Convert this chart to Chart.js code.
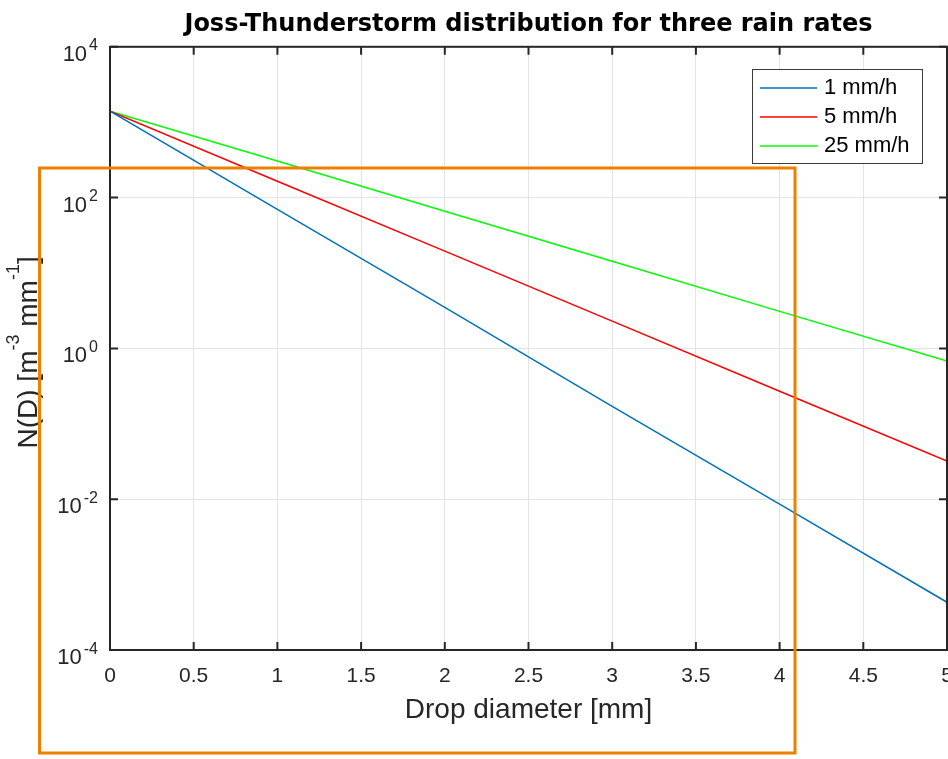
<!DOCTYPE html>
<html>
<head>
<meta charset="utf-8">
<script src="https://cdn.jsdelivr.net/npm/chart.js@4.4.0/dist/chart.umd.min.js"></script>
<style>
  html, body { margin: 0; padding: 0; background: #fff; }
  #wrap { width: 948px; height: 759px; }
</style>
</head>
<body>
<div id="wrap"><canvas id="myChart"></canvas></div>
<script>
// drop diameter [mm]
const diameters = [0, 1, 2, 3, 4, 5];
const rainRates = ['1 mm/h', '5 mm/h', '25 mm/h'];
// N(D) [m^-3 mm^-1]
const nd1 = [1400, 70, 3.5, 0.17, 0.0086, 0.00043];
const nd5 = [1400, 165, 19.5, 2.3, 0.27, 0.032];
const nd25 = [1400, 305, 66, 14.3, 3.1, 0.68];
const xTickValues = [0, 0.5, 1, 1.5, 2, 2.5, 3, 3.5, 4, 4.5, 5];
const yTickExponents = [-4, -2, 0, 2, 4];
const lineColors = ['#0072bd', '#ff0000', '#00ff00'];

const axisColor = '#262626';
const sans = "'Liberation Sans', Arial, sans-serif";
Chart.defaults.font.family = sans;
Chart.defaults.color = axisColor;

function points(values) {
    return diameters.map((d, i) => ({ x: d, y: values[i] }));
}

// box, inward ticks, superscript labels, legend, highlight frame
const frame = {
    id: 'frame',
    afterDraw(chart) {
        const { ctx, chartArea: a, scales: { x, y } } = chart;
        ctx.save();

        // y tick labels 10^n
        ctx.fillStyle = axisColor;
        ctx.textBaseline = 'alphabetic';
        ctx.textAlign = 'right';
        yTickExponents.forEach(e => {
            const py = y.getPixelForValue(Math.pow(10, e));
            const exp = String(e);
            ctx.font = '16px ' + sans;
            const w = ctx.measureText(exp).width;
            ctx.fillText(exp, 98, py + 3.5);
            ctx.font = '22px ' + sans;
            ctx.fillText('10', 98 - w - 2, py + 14);
        });

        // y title with superscripts
        const parts = [['N(D) [m', 0], ['-3', 1], [' mm', 0], ['-1', 1], [']', 0]];
        ctx.translate(37, (a.top + a.bottom) / 2 + 4);
        ctx.rotate(-Math.PI / 2);
        ctx.textAlign = 'left';
        let total = 0;
        parts.forEach(p => {
            ctx.font = (p[1] ? '18px ' : '28px ') + sans;
            total += ctx.measureText(p[0]).width;
        });
        let cx = -total / 2;
        parts.forEach(p => {
            ctx.font = (p[1] ? '18px ' : '28px ') + sans;
            ctx.fillText(p[0], cx, p[1] ? -18 : 0);
            cx += ctx.measureText(p[0]).width;
        });
        ctx.setTransform(1, 0, 0, 1, 0, 0);

        // inward tick marks
        ctx.strokeStyle = axisColor;
        ctx.lineWidth = 2;
        ctx.beginPath();
        xTickValues.forEach(v => {
            const px = x.getPixelForValue(v);
            ctx.moveTo(px, a.bottom); ctx.lineTo(px, a.bottom - 8);
            ctx.moveTo(px, a.top); ctx.lineTo(px, a.top + 8);
        });
        yTickExponents.forEach(e => {
            const py = y.getPixelForValue(Math.pow(10, e));
            ctx.moveTo(a.left, py); ctx.lineTo(a.left + 8, py);
            ctx.moveTo(a.right, py); ctx.lineTo(a.right - 8, py);
        });
        ctx.stroke();
        ctx.strokeRect(a.left, a.top, a.right - a.left, a.bottom - a.top);

        // legend
        ctx.fillStyle = '#fff';
        ctx.fillRect(752, 69, 170, 94);
        ctx.strokeStyle = '#3c3c3c';
        ctx.lineWidth = 1;
        ctx.strokeRect(752.5, 69.5, 170, 94);
        ctx.font = '22px ' + sans;
        ctx.textBaseline = 'middle';
        ctx.textAlign = 'left';
        chart.data.datasets.forEach((ds, i) => {
            const ly = 88 + i * 29;
            ctx.strokeStyle = ds.borderColor;
            ctx.lineWidth = 1.5;
            ctx.beginPath();
            ctx.moveTo(760, ly); ctx.lineTo(817, ly);
            ctx.stroke();
            ctx.fillStyle = '#000';
            ctx.fillText(ds.label, 824, ly);
        });

        // orange highlight frame
        ctx.strokeStyle = '#ee8000';
        ctx.lineWidth = 3;
        ctx.strokeRect(39.5, 168, 755.5, 585);
        ctx.restore();
    }
};

const config = {
    type: 'line',
    data: {
        datasets: [
            { label: rainRates[0], data: points(nd1), borderColor: lineColors[0], backgroundColor: lineColors[0] },
            { label: rainRates[1], data: points(nd5), borderColor: lineColors[1], backgroundColor: lineColors[1] },
            { label: rainRates[2], data: points(nd25), borderColor: lineColors[2], backgroundColor: lineColors[2] }
        ]
    },
    options: {
        responsive: true,
        maintainAspectRatio: false,
        animation: false,
        elements: {
            point: { radius: 0 },
            line: { borderWidth: 1.5, tension: 0 }
        },
        layout: { padding: { left: 0, right: 1, top: 0, bottom: 0 } },
        plugins: {
            legend: { display: false },
            tooltip: { enabled: false },
            title: {
                display: true,
                fullSize: false,
                text: 'Joss-Thunderstorm distribution for three rain rates',
                color: '#000',
                font: { family: "'DejaVu Sans', sans-serif", size: 24, weight: 'bold' },
                padding: { top: 10, bottom: 8 }
            }
        },
        scales: {
            x: {
                type: 'linear',
                min: 0,
                max: 5,
                afterBuildTicks: scale => { scale.ticks = xTickValues.map(v => ({ value: v })); },
                afterFit: scale => { scale.height = 109; scale.paddingLeft = 0; scale.paddingRight = 0; },
                ticks: { font: { size: 21 }, padding: 14, maxRotation: 0, callback: v => String(v) },
                grid: { color: '#e3e3e3', drawTicks: false },
                border: { display: false },
                title: {
                    display: true,
                    text: 'Drop diameter [mm]',
                    font: { size: 28 },
                    padding: { top: 0, bottom: 32 }
                }
            },
            y: {
                type: 'logarithmic',
                min: 1e-4,
                max: 1e4,
                afterBuildTicks: scale => { scale.ticks = yTickExponents.map(e => ({ value: Math.pow(10, e) })); },
                afterFit: scale => { scale.width = 110; scale.paddingTop = 0; scale.paddingBottom = 0; },
                ticks: { display: false },
                grid: { color: '#e3e3e3', drawTicks: false },
                border: { display: false }
            }
        }
    },
    plugins: [frame]
};

const myChart = new Chart(document.getElementById('myChart'), config);
</script>
</body>
</html>
